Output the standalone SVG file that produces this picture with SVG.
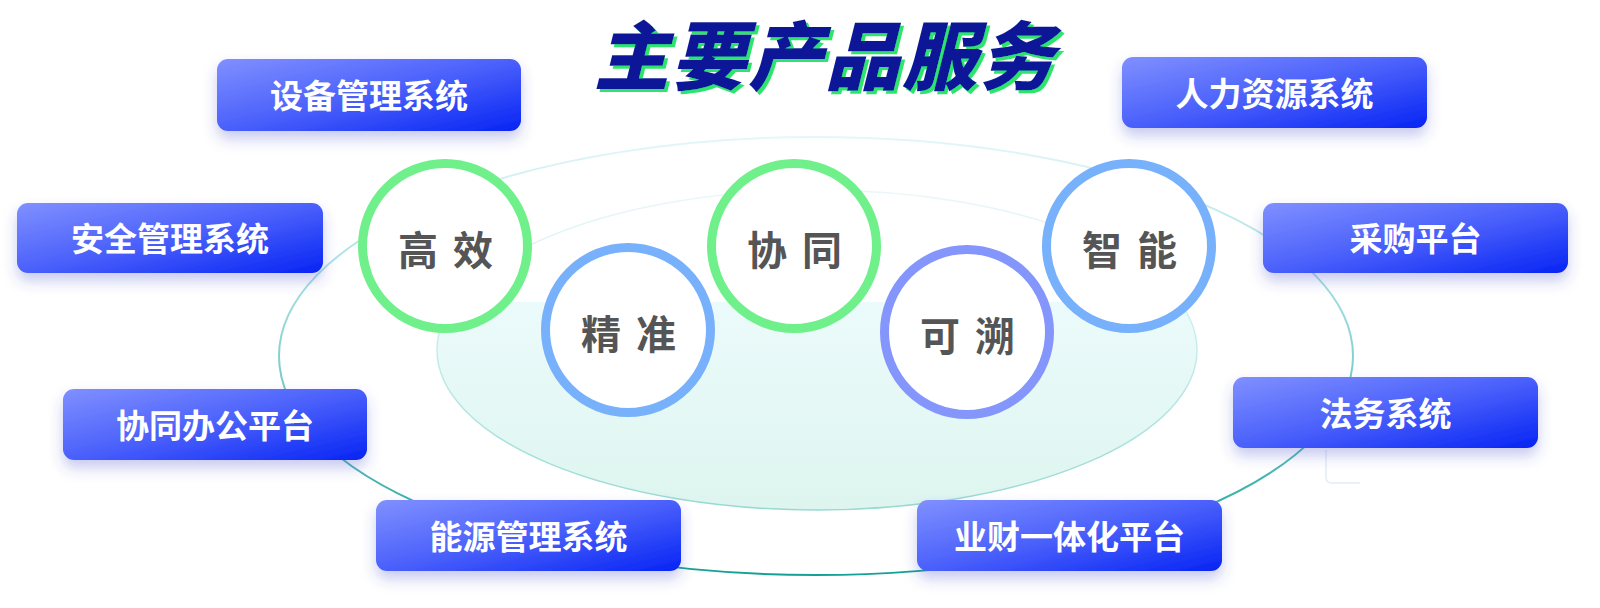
<svg xmlns="http://www.w3.org/2000/svg" width="1600" height="608" viewBox="0 0 1600 608">
  <defs>
    <linearGradient id="boxGrad" x1="0" y1="0" x2="1" y2="1">
      <stop offset="0" stop-color="#8090ff"/>
      <stop offset="0.5" stop-color="#4a60fb"/>
      <stop offset="1" stop-color="#0724f4"/>
    </linearGradient>
    <linearGradient id="outerStroke" gradientUnits="userSpaceOnUse" x1="0" y1="138" x2="0" y2="576">
      <stop offset="0" stop-color="#e4f6f9"/>
      <stop offset="0.45" stop-color="#8fd5d8"/>
      <stop offset="1" stop-color="#15a095"/>
    </linearGradient>
    <linearGradient id="innerStroke" gradientUnits="userSpaceOnUse" x1="0" y1="190" x2="0" y2="510">
      <stop offset="0" stop-color="#eaf7f9"/>
      <stop offset="0.5" stop-color="#c6ecec"/>
      <stop offset="1" stop-color="#96d9d0"/>
    </linearGradient>
    <linearGradient id="innerFill" gradientUnits="userSpaceOnUse" x1="0" y1="190" x2="0" y2="510">
      <stop offset="0" stop-color="#ffffff" stop-opacity="0"/>
      <stop offset="0.35" stop-color="#ffffff" stop-opacity="0"/>
      <stop offset="0.35" stop-color="#ebfbfb"/>
      <stop offset="1" stop-color="#def5ef"/>
    </linearGradient>
    <filter id="boxShadow" x="-20%" y="-30%" width="140%" height="180%">
      <feDropShadow dx="0" dy="8" stdDeviation="7" flood-color="#3446c8" flood-opacity="0.28"/>
    </filter>
    <filter id="titleShadow" x="-10%" y="-30%" width="120%" height="160%">
      <feFlood flood-color="#2fe46c" result="g"/>
      <feComposite in="g" in2="SourceAlpha" operator="in" result="gs"/>
      <feOffset in="gs" dx="3" dy="3" result="off"/>
      <feMerge>
        <feMergeNode in="off"/>
        <feMergeNode in="SourceGraphic"/>
      </feMerge>
    </filter>
    <style>
      .box { fill: url(#boxGrad); filter: url(#boxShadow); }
      .boxText { font-family: "Noto Sans CJK SC", "Noto Sans", sans-serif; font-weight: 700; font-size: 33px; fill: #ffffff; text-anchor: middle; }
      .ring { fill: #ffffff; stroke-width: 9; }
      .green { stroke: #6ff08b; }
      .blue { stroke: #77b0fb; }
      .purple { stroke: #8496fb; }
      .ringText { font-family: "Noto Sans CJK SC", "Noto Sans", sans-serif; font-weight: 700; font-size: 40px; fill: #555555; text-anchor: middle; }
      .title { font-family: "Noto Sans CJK SC", "Noto Sans", sans-serif; font-weight: 900; font-style: italic; font-size: 75px; letter-spacing: 2px; text-anchor: middle; fill: #0a1896; filter: url(#titleShadow); }
    </style>
  </defs>

  <rect width="1600" height="608" fill="#ffffff"/>

  <g id="connectors">
    <ellipse cx="816" cy="356" rx="537" ry="219" fill="none" stroke="url(#outerStroke)" stroke-width="2"/>
    <ellipse cx="817" cy="350" rx="380" ry="160" fill="url(#innerFill)" stroke="url(#innerStroke)" stroke-width="1.5"/>
    <path d="M1326 450 V477 Q1326 483 1332 483 H1360" fill="none" stroke="#e3ecf7" stroke-width="1.5"/>
  </g>

  <g id="circle-gaoxiao">
    <circle class="ring green" cx="445" cy="246" r="82.5"/>
    <text class="ringText" x="418 473" y="265">高效</text>
  </g>
  <g id="circle-jingzhun">
    <circle class="ring blue" cx="628" cy="330" r="82.5"/>
    <text class="ringText" x="601 656" y="349">精准</text>
  </g>
  <g id="circle-xietong">
    <circle class="ring green" cx="794" cy="246" r="82.5"/>
    <text class="ringText" x="767 822" y="265">协同</text>
  </g>
  <g id="circle-kesu">
    <circle class="ring purple" cx="967" cy="332" r="82.5"/>
    <text class="ringText" x="940 995" y="351">可溯</text>
  </g>
  <g id="circle-zhineng">
    <circle class="ring blue" cx="1129" cy="246" r="82.5"/>
    <text class="ringText" x="1102 1157" y="265">智能</text>
  </g>

  <g id="box-shebei">
    <rect class="box" x="217" y="59" width="304" height="72" rx="11"/>
    <text class="boxText" x="369" y="108">设备管理系统</text>
  </g>
  <g id="box-anquan">
    <rect class="box" x="17" y="203" width="306" height="70" rx="11"/>
    <text class="boxText" x="170" y="251">安全管理系统</text>
  </g>
  <g id="box-xietongbangong">
    <rect class="box" x="63" y="389" width="304" height="71" rx="11"/>
    <text class="boxText" x="215" y="438">协同办公平台</text>
  </g>
  <g id="box-nengyuan">
    <rect class="box" x="376" y="500" width="305" height="71" rx="11"/>
    <text class="boxText" x="528.5" y="549">能源管理系统</text>
  </g>
  <g id="box-renli">
    <rect class="box" x="1122" y="57" width="305" height="71" rx="11"/>
    <text class="boxText" x="1274.5" y="106">人力资源系统</text>
  </g>
  <g id="box-caigou">
    <rect class="box" x="1263" y="203" width="305" height="70" rx="11"/>
    <text class="boxText" x="1415.5" y="251">采购平台</text>
  </g>
  <g id="box-fawu">
    <rect class="box" x="1233" y="377" width="305" height="71" rx="11"/>
    <text class="boxText" x="1385.5" y="426">法务系统</text>
  </g>
  <g id="box-yecai">
    <rect class="box" x="917" y="500" width="305" height="71" rx="11"/>
    <text class="boxText" x="1069.5" y="549">业财一体化平台</text>
  </g>

  <g id="title">
    <text class="title" x="825" y="84">主要产品服务</text>
  </g>
</svg>
